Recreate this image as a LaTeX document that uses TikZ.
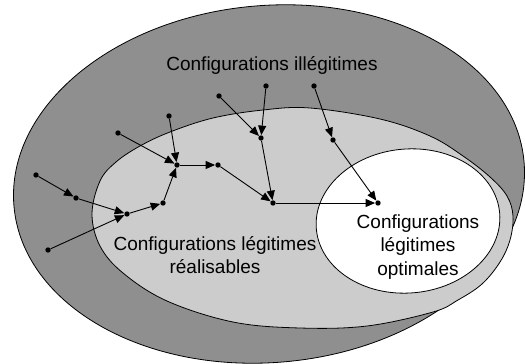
\documentclass[tikz,border=0pt]{standalone}
\usepackage{fontspec}
\setmainfont{Liberation Sans}
\usetikzlibrary{arrows.meta}
\definecolor{darkzone}{gray}{0.56}
\definecolor{lightzone}{gray}{0.80}
\tikzset{
  dot/.style={circle,fill=black,draw=none,inner sep=0pt,minimum size=5.4pt},
  arr/.style={line width=0.9pt,-{Triangle[length=9.5pt,width=8pt]}},
  zone/.style={draw=black,line width=0.8pt},
  lbl/.style={align=center,font=\fontsize{19}{23.5}\selectfont,inner sep=0pt}
}
\begin{document}
\begin{tikzpicture}[x=1pt,y=-1pt]
\useasboundingbox (0,0) rectangle (525,364);
% outer zone
\draw[zone,fill=darkzone,rotate around={5:(269,184)}] (269,184) ellipse [x radius=256pt, y radius=178.5pt];
% inner light zone
\draw[zone,fill=lightzone] plot[smooth cycle, tension=0.6] coordinates {
 (92,214) (100,181) (116,162) (140,146) (170,132) (213,118) (263,110) (310,108)
 (380,119) (430,136) (463,156) (490,177) (507,196) (513,216) (510,240) (500,262)
 (482,284) (458,300) (433,312) (367,326) (300,328) (233,322) (167,301) (123,273) (100,246)};
% white zone
\draw[zone,fill=white,rotate around={5:(408,221)}] (408,221) ellipse [x radius=92pt, y radius=72pt];
% labels
\node[lbl] (t1) at (272,65) {Configurations illégitimes};
\node[lbl] (t2) at (215,255) {Configurations légitimes\\réalisables};
\node[lbl] (t3) at (418,247) {Configurations\\légitimes\\optimales};
% dots
\node[dot] (A) at (36,175) {};
\node[dot] (B) at (76,198) {};
\node[dot] (C) at (127,214) {};
\node[dot] (D) at (48,250) {};
\node[dot] (E) at (163,203) {};
\node[dot] (F) at (177,165) {};
\node[dot] (G) at (118,133) {};
\node[dot] (H) at (169,116) {};
\node[dot] (I) at (218,165) {};
\node[dot] (J) at (219,96) {};
\node[dot] (K) at (266,86) {};
\node[dot] (L) at (261,138) {};
\node[dot] (M) at (273,203) {};
\node[dot] (N) at (314,86) {};
\node[dot] (O) at (333,140) {};
\node[dot] (P) at (378,203) {};
% arrows
\draw[arr] (A) -- (B);
\draw[arr] (B) -- (C);
\draw[arr] (D) -- (C);
\draw[arr] (C) -- (E);
\draw[arr] (E) -- (F);
\draw[arr] (G) -- (F);
\draw[arr] (H) -- (F);
\draw[arr] (F) -- (I);
\draw[arr] (I) -- (M);
\draw[arr] (J) -- (L);
\draw[arr] (K) -- (L);
\draw[arr] (L) -- (M);
\draw[arr] (M) -- (P);
\draw[arr] (N) -- (O);
\draw[arr] (O) -- (P);
\end{tikzpicture}
\end{document}
